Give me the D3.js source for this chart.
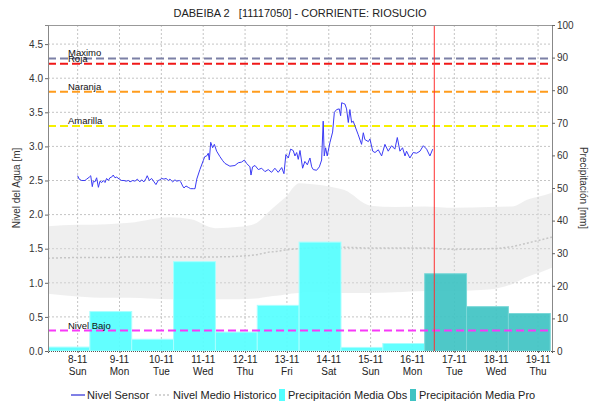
<!DOCTYPE html>
<html>
<head>
<meta charset="utf-8">
<script src="https://cdnjs.cloudflare.com/ajax/libs/d3/7.8.5/d3.min.js"></script>
<style>
  body { margin: 0; background: #fff; }
  text { font-family: "Liberation Sans", Arial, sans-serif; }
</style>
</head>
<body>
<svg id="chart" width="615" height="411"></svg>
<script>
// ---------------------------------------------------------------
//    DATA (hours are counted from 8-11 00:00)
// ---------------------------------------------------------------
const chartTitle = "DABEIBA 2   [11117050] - CORRIENTE: RIOSUCIO";
const baseTime = Date.UTC(2020, 10, 8);
const domainHours = [-17, 272];
const nowHour = 204.5;

const sensorHours = [0, 0.9, 2.3, 4.2, 5.2, 6.7, 7.5, 8.4, 9.0, 9.9, 10.9, 11.9, 12.8, 13.8, 14.7, 15.7, 16.6, 17.6, 18.5, 19.5,
  20.4, 21.4, 22.4, 23.9, 25.2, 26.6, 27.7, 29.1, 30.0, 31.6, 32.9, 34.2, 35.7, 36.7, 38.0, 39.2, 39.9, 41.1, 42.4, 43.8,
  44.9, 46.2, 47.2, 48.2, 49.5, 50.7, 52.0, 52.9, 54.5, 55.8, 56.8, 58.3, 59.1, 60.2, 61.0, 62.1, 63.4, 64.8, 66.3, 67.3,
  68.3, 70.1, 72.0, 72.9, 74.0, 74.9, 75.5, 76.3, 77.4, 78.4, 79.7, 81.6, 83.2, 84.5, 87.3, 90.2, 92.1, 94.0, 95.6, 96.9,
  98.8, 99.4, 100.3, 101.7, 103.6, 105.5, 107.4, 109.3, 111.2, 113.1, 115.0, 117.0, 118.3, 119.4, 120.8, 122.1, 123.6, 124.6, 125.6, 126.5,
  127.5, 129.0, 130.3, 131.7, 133.2, 134.2, 135.1, 137.0, 138.6, 139.9, 140.8, 141.4, 142.2, 143.1, 144.7, 146.2, 147.2, 148.5, 150.0, 150.8,
  151.4, 152.3, 153.3, 154.2, 155.2, 156.1, 157.1, 158.0, 159.0, 160.9, 162.8, 163.8, 164.7, 166.7, 167.6, 169.2, 170.5, 172.4, 174.3, 176.2,
  178.1, 180.0, 181.9, 183.3, 184.8, 186.3, 187.7, 188.6, 190.5, 192.4, 194.4, 196.3, 198.2, 200.1, 202.0, 203.6];
const sensorLevel = [2.57, 2.52, 2.50, 2.50, 2.52, 2.55, 2.57, 2.41, 2.49, 2.48, 2.54, 2.40, 2.49, 2.47, 2.50, 2.47, 2.53, 2.50, 2.54, 2.55,
  2.58, 2.54, 2.55, 2.52, 2.50, 2.50, 2.49, 2.50, 2.48, 2.50, 2.49, 2.52, 2.48, 2.51, 2.48, 2.53, 2.57, 2.50, 2.53, 2.48,
  2.44, 2.50, 2.51, 2.53, 2.52, 2.53, 2.50, 2.52, 2.48, 2.51, 2.49, 2.50, 2.48, 2.42, 2.39, 2.42, 2.40, 2.38, 2.38, 2.38,
  2.52, 2.66, 2.79, 2.85, 2.86, 2.90, 2.80, 3.06, 2.98, 3.03, 2.93, 2.85, 2.79, 2.75, 2.71, 2.72, 2.76, 2.77, 2.80, 2.75,
  2.70, 2.58, 2.70, 2.72, 2.66, 2.68, 2.63, 2.66, 2.62, 2.68, 2.62, 2.69, 2.60, 2.88, 2.83, 2.96, 2.94, 2.86, 2.91, 2.81,
  2.94, 2.68, 2.78, 2.73, 2.83, 2.70, 2.66, 2.65, 2.70, 2.80, 3.37, 2.86, 2.98, 2.86, 3.06, 3.21, 3.50, 3.54, 3.55, 3.45,
  3.64, 3.63, 3.62, 3.55, 3.35, 3.54, 3.35, 3.37, 3.30, 3.17, 3.03, 3.20, 3.10, 3.07, 3.11, 2.93, 2.91, 2.95, 2.86, 3.03,
  2.93, 3.01, 2.96, 3.13, 2.93, 2.98, 2.86, 2.93, 2.83, 2.91, 2.90, 2.93, 3.01, 2.96, 2.86, 2.96];

const histHours = [-17, 0, 17, 30, 53, 65, 79, 93, 102, 110, 114, 119, 127, 133, 145, 153, 168, 182, 199, 216, 236, 249, 259, 264, 272];
const histUpper = [1.83, 1.85, 1.86, 1.88, 1.96, 1.93, 1.80, 1.82, 1.87, 2.05, 2.14, 2.25, 2.46, 2.45, 2.41, 2.36, 2.13, 2.11, 2.12, 2.10, 2.11, 2.12, 2.23, 2.26, 2.32];
const histLower = [0.84, 0.80, 0.78, 0.78, 0.76, 0.76, 0.76, 0.76, 0.77, 0.80, 0.81, 0.83, 0.85, 0.86, 0.85, 0.85, 0.85, 0.86, 0.88, 0.88, 0.90, 0.98, 1.10, 1.14, 1.22];
const histMean = [1.36, 1.37, 1.37, 1.38, 1.38, 1.38, 1.38, 1.39, 1.41, 1.45, 1.46, 1.48, 1.50, 1.51, 1.52, 1.52, 1.51, 1.51, 1.51, 1.49, 1.50, 1.53, 1.59, 1.62, 1.67];

// daily precipitation, 07:00 to 07:00
const rainObsStart = [-17, 7, 31, 55, 79, 103, 127, 151, 175];
const rainObs = [1.2, 12.1, 3.6, 27.4, 5.8, 14.0, 33.4, 1.1, 2.3];
const rainProStart = [199, 223, 247];
const rainPro = [23.7, 13.6, 11.5];

const levelNames = ["Maximo", "Roja", "Naranja", "Amarilla", "Nivel Bajo"];
const levelValues = [4.29, 4.21, 3.80, 3.30, 0.30];
const levelColors = ["#7c80a6", "#f01818", "#ff9c1c", "#f6f000", "#f838f8"];

const levelTicks = [0, 0.5, 1, 1.5, 2, 2.5, 3, 3.5, 4, 4.5];
const rainTicks = [0, 10, 20, 30, 40, 50, 60, 70, 80, 90, 100];

const legendNames = ["Nivel Sensor", "Nivel Medio Historico", "Precipitación Media Obs", "Precipitación Media Pro"];

// ---------------------------------------------------------------
//    DRAWING
// ---------------------------------------------------------------
const pLeft = 48, pRight = 552, pTop = 25, pBottom = 351;
const toDate = h => new Date(baseTime + h * 3600e3);

const svg = d3.select("#chart");

const x = d3.scaleUtc().domain(domainHours.map(toDate)).range([pLeft, pRight]);
const yL = d3.scaleLinear().domain([0, 4.78]).range([pBottom, pTop]);
const yR = d3.scaleLinear().domain([0, 100]).range([pBottom, pTop]);

svg.append("defs").append("clipPath").attr("id", "plot")
    .append("rect").attr("x", pLeft).attr("y", pTop).attr("width", pRight - pLeft).attr("height", pBottom - pTop);

const plot = svg.append("g").attr("clip-path", "url(#plot)");

const days = d3.utcDay.range(toDate(0), toDate(265));

// grid
plot.append("g").selectAll("line").data(levelTicks.slice(1)).join("line")
    .attr("x1", pLeft).attr("x2", pRight)
    .attr("y1", d => yL(d)).attr("y2", d => yL(d))
    .attr("stroke", "#c4c4c4").attr("stroke-dasharray", "2,2");
plot.append("g").selectAll("line").data(days).join("line")
    .attr("x1", d => x(d)).attr("x2", d => x(d))
    .attr("y1", pTop).attr("y2", pBottom)
    .attr("stroke", "#c4c4c4").attr("stroke-dasharray", "2,2");

// historic band
const hist = histHours.map((h, i) => ({ t: toDate(h), hi: histUpper[i], lo: histLower[i], mean: histMean[i] }));
plot.append("path").datum(hist)
    .attr("fill", "#dcdcdc").attr("fill-opacity", 0.45)
    .attr("d", d3.area().x(d => x(d.t)).y0(d => yL(d.lo)).y1(d => yL(d.hi)).curve(d3.curveMonotoneX));

plot.append("path").datum(hist)
    .attr("fill", "none").attr("stroke", "#c6c6c6").attr("stroke-width", 1.5).attr("stroke-dasharray", "2,2")
    .attr("d", d3.line().x(d => x(d.t)).y(d => yL(d.mean)).curve(d3.curveMonotoneX));

// precipitation bars
function drawBars(starts, values, color, edge) {
    plot.append("g").selectAll("rect").data(values).join("rect")
        .attr("x", (d, i) => x(toDate(starts[i])))
        .attr("width", (d, i) => x(toDate(starts[i] + 24)) - x(toDate(starts[i])))
        .attr("y", d => yR(d))
        .attr("height", d => pBottom - yR(d))
        .attr("fill", color).attr("fill-opacity", 0.92)
        .attr("stroke", edge).attr("stroke-width", 1);
}
drawBars(rainObsStart, rainObs, "#55ffff", "#a8ffff");
drawBars(rainProStart, rainPro, "#3fc3c3", "#7ad8d8");

// threshold markers
levelValues.forEach((v, i) => {
    plot.append("line")
        .attr("x1", pLeft).attr("x2", pRight)
        .attr("y1", yL(v)).attr("y2", yL(v))
        .attr("stroke", levelColors[i]).attr("stroke-width", 2).attr("stroke-dasharray", "8,4");
    svg.append("text")
        .attr("x", 68).attr("y", yL(v) - 2)
        .attr("font-size", 9.5).attr("fill", "#111")
        .text(levelNames[i]);
});

// sensor line
const sensor = sensorHours.map((h, i) => ({ t: toDate(h), v: sensorLevel[i] }));
plot.append("path").datum(sensor)
    .attr("fill", "none").attr("stroke", "#3b3bf5").attr("stroke-width", 1)
    .attr("d", d3.line().x(d => x(d.t)).y(d => yL(d.v)));

// now marker
plot.append("line")
    .attr("x1", x(toDate(nowHour))).attr("x2", x(toDate(nowHour)))
    .attr("y1", pTop).attr("y2", pBottom)
    .attr("stroke", "#ff3030").attr("stroke-width", 1);

// frame and axes
svg.append("line").attr("x1", pLeft).attr("x2", pRight).attr("y1", pTop + 0.5).attr("y2", pTop + 0.5).attr("stroke", "#999");

const axL = svg.append("g").attr("transform", `translate(${pLeft},0)`)
    .call(d3.axisLeft(yL).tickValues(levelTicks).tickFormat(d3.format(".1f")).tickSize(3).tickPadding(2));
const axR = svg.append("g").attr("transform", `translate(${pRight},0)`)
    .call(d3.axisRight(yR).tickValues(rainTicks).tickSize(3).tickPadding(2));
[axL, axR].forEach(a => {
    a.select(".domain").attr("stroke", "#888");
    a.selectAll(".tick line").attr("stroke", "#666");
    a.selectAll("text").attr("font-size", 10).attr("fill", "#333").attr("font-family", "Liberation Sans, Arial, sans-serif");
});

const axB = svg.append("g").attr("transform", `translate(0,${pBottom})`)
    .call(d3.axisBottom(x).tickValues(days).tickSize(2).tickFormat(""));
axB.select(".domain").attr("stroke", "#555").attr("stroke-dasharray", "1,1");
axB.selectAll(".tick line").attr("stroke", "#666");

const fmtDay = d3.utcFormat("%-d-%m"), fmtName = d3.utcFormat("%a");
const labs = svg.append("g").selectAll("text").data(days).join("text")
    .attr("x", d => x(d)).attr("text-anchor", "middle")
    .attr("font-size", 10).attr("fill", "#222");
labs.append("tspan").attr("x", d => x(d)).attr("y", 363).text(d => fmtDay(d));
labs.append("tspan").attr("x", d => x(d)).attr("y", 375).text(d => fmtName(d));

// titles
svg.append("text").attr("x", (pLeft + pRight) / 2).attr("y", 17).attr("text-anchor", "middle")
    .attr("font-size", 11).attr("fill", "#222").style("white-space", "pre").text(chartTitle);
svg.append("text").attr("transform", `translate(20,${(pTop + pBottom) / 2}) rotate(-90)`)
    .attr("text-anchor", "middle").attr("font-size", 10).attr("fill", "#333").text("Nivel del Agua [m]");
svg.append("text").attr("transform", `translate(580,${(pTop + pBottom) / 2}) rotate(90)`)
    .attr("text-anchor", "middle").attr("font-size", 10).attr("fill", "#333").text("Precipitación [mm]");

// legend
const lg = svg.append("g").attr("font-size", 11).attr("fill", "#222");
const ly = 395;
lg.append("line").attr("x1", 71).attr("x2", 85).attr("y1", ly).attr("y2", ly).attr("stroke", "#0000cc");
lg.append("text").attr("x", 87).attr("y", ly + 4).text(legendNames[0]);
lg.append("line").attr("x1", 155).attr("x2", 169).attr("y1", ly).attr("y2", ly)
    .attr("stroke", "#c6c6c6").attr("stroke-width", 1.5).attr("stroke-dasharray", "2,2");
lg.append("text").attr("x", 173).attr("y", ly + 4).text(legendNames[1]);
lg.append("rect").attr("x", 279).attr("y", ly - 6).attr("width", 6).attr("height", 12).attr("fill", "#55ffff");
lg.append("text").attr("x", 288).attr("y", ly + 4).text(legendNames[2]);
lg.append("rect").attr("x", 410).attr("y", ly - 6).attr("width", 6).attr("height", 12).attr("fill", "#3fc3c3");
lg.append("text").attr("x", 419).attr("y", ly + 4).text(legendNames[3]);
</script>
</body>
</html>
